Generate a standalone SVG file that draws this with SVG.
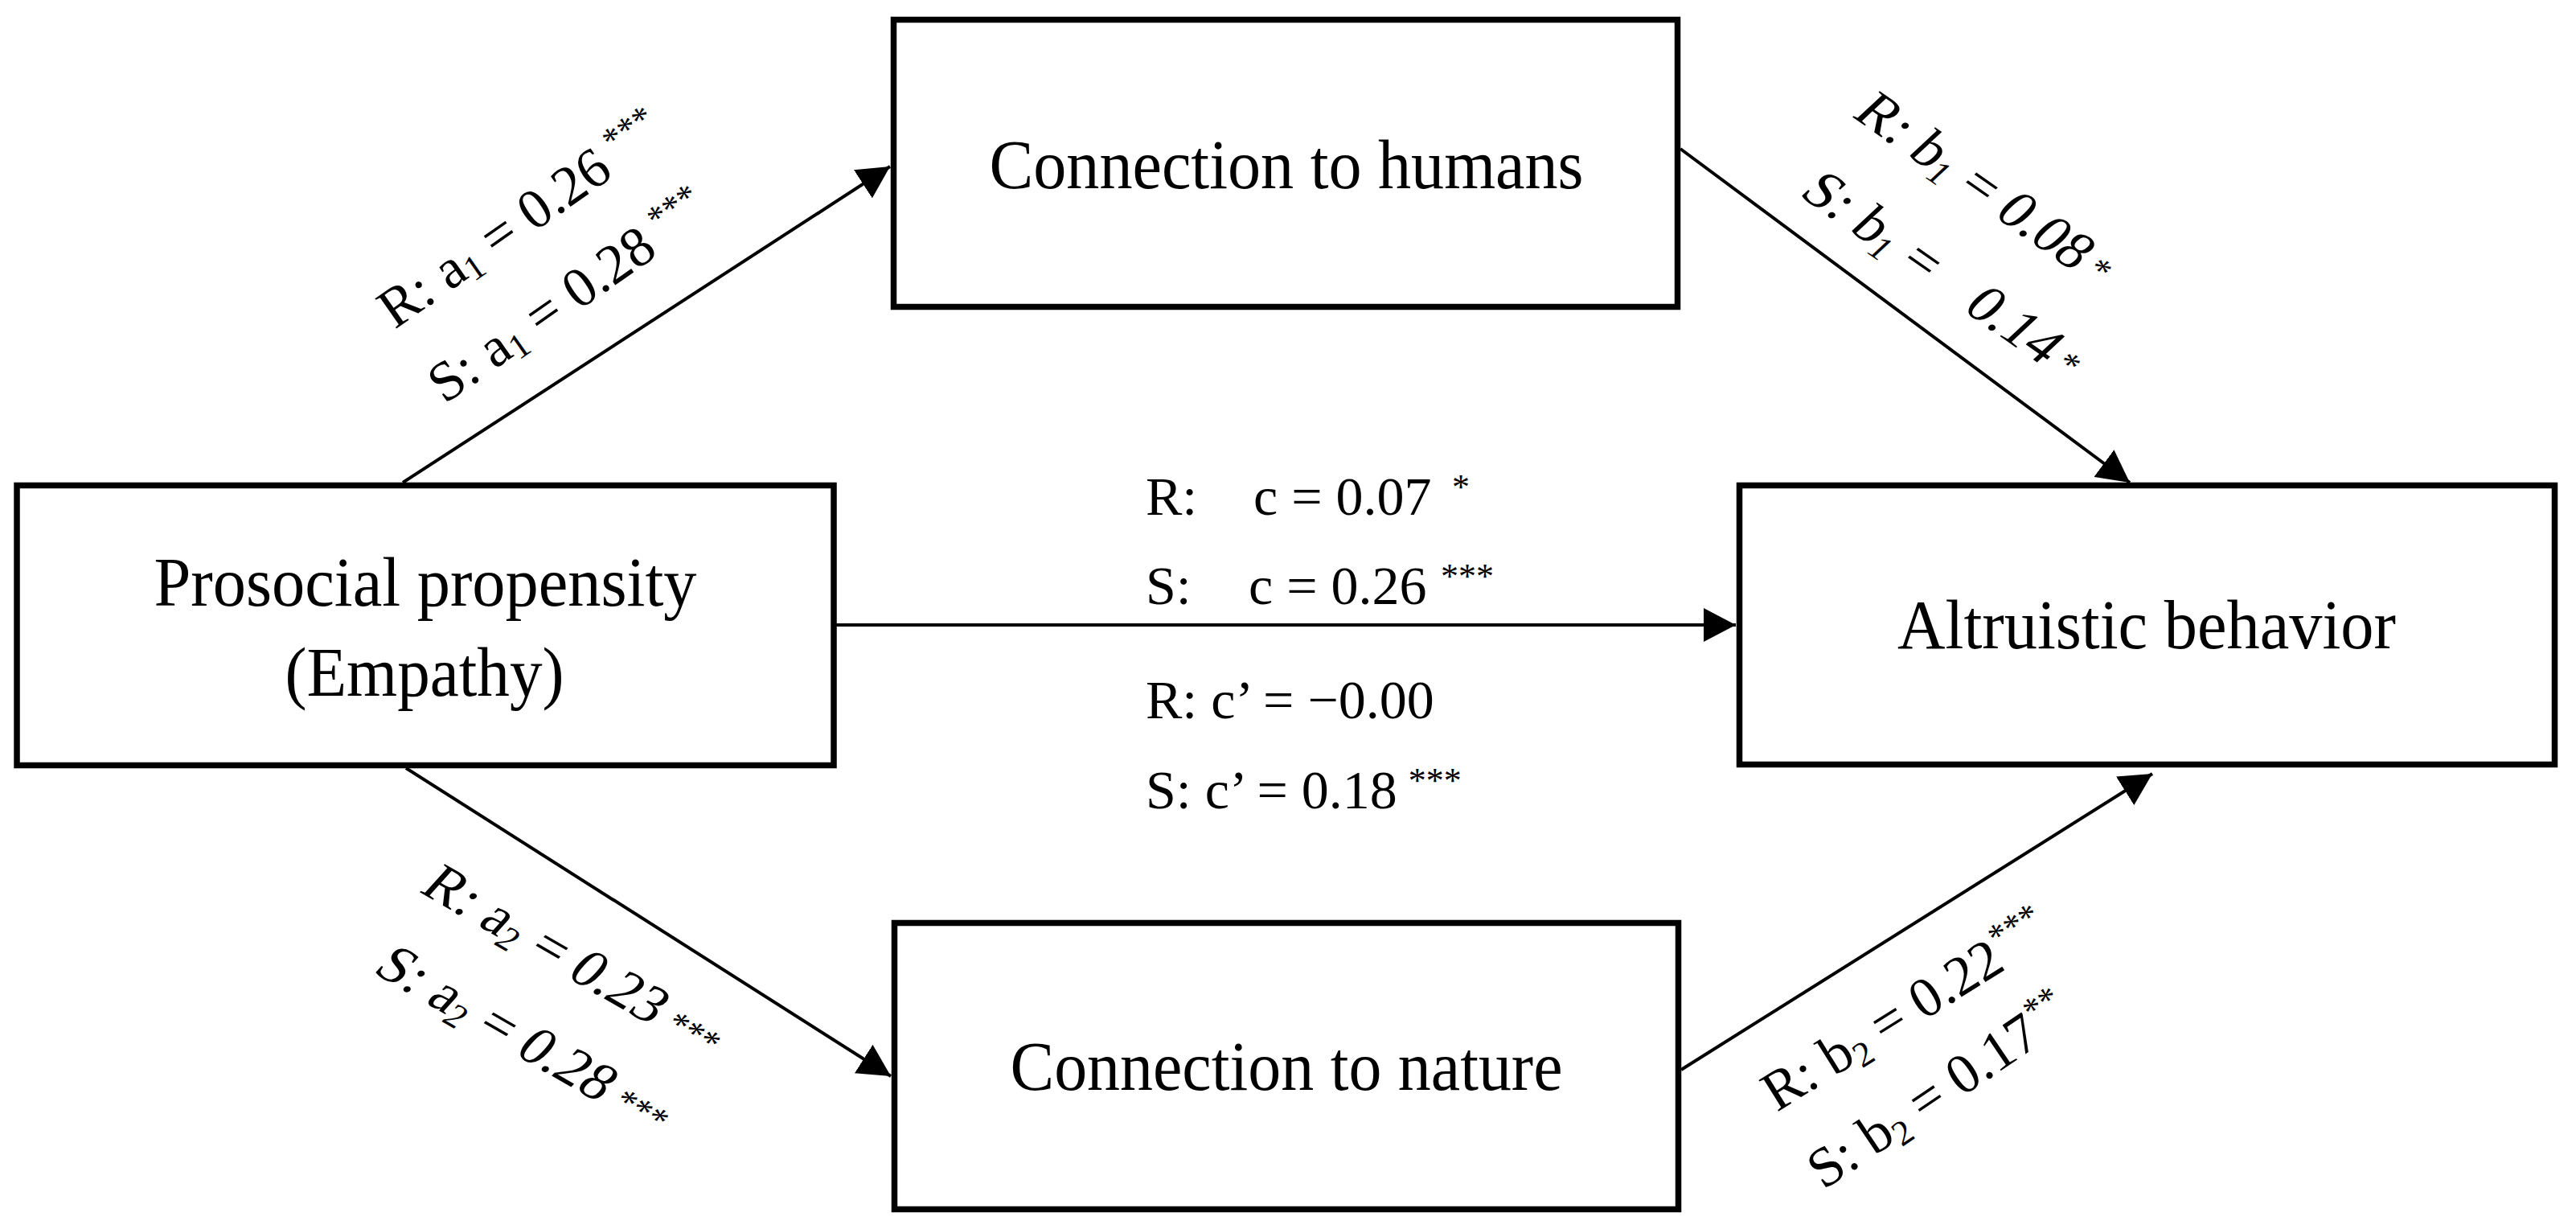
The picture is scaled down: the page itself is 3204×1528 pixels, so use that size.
<svg xmlns="http://www.w3.org/2000/svg" width="3204" height="1528" viewBox="0 0 3204 1528">
<style>
text{font-family:"Liberation Serif","Times New Roman",serif;fill:#000}
.node{font-size:86px;text-anchor:middle}
.lab{font-size:70px}
.mid{font-size:68px}
.sub{font-size:44px}
.sup{font-size:44px}
.box{fill:#fff;stroke:#000;stroke-width:7.5}
.edge{fill:none;stroke:#000;stroke-width:4}
</style>
<defs>
<marker id="arr" markerUnits="userSpaceOnUse" markerWidth="40" markerHeight="42" viewBox="0 0 40 42" refX="40" refY="21" orient="auto"><path d="M0,0 L40,21 L0,42 z" fill="#000"/></marker>
</defs>
<rect width="3204" height="1528" fill="#fff"/>
<g id="connectors">
<path class="edge" d="M501,600 L1107,207" marker-end="url(#arr)"/>
<path class="edge" d="M1040,777 L2159,777" stroke-width="5" marker-end="url(#arr)"/>
<path class="edge" d="M505,955 L1108,1338" marker-end="url(#arr)"/>
<path class="edge" d="M2090,185 L2649,600" marker-end="url(#arr)"/>
<path class="edge" d="M2091,1330 L2677,962" marker-end="url(#arr)"/>
</g>
<g id="node-prosocial">
<rect class="box" x="21" y="603.5" width="1016" height="348"/>
<text class="node" x="529" y="753" textLength="675" lengthAdjust="spacingAndGlyphs">Prosocial propensity</text>
<text class="node" x="528" y="865" textLength="347" lengthAdjust="spacingAndGlyphs">(Empathy)</text>
</g>
<g id="node-humans">
<rect class="box" x="1111.5" y="24.5" width="975" height="357"/>
<text class="node" x="1600" y="234" textLength="739" lengthAdjust="spacingAndGlyphs">Connection to humans</text>
</g>
<g id="node-altruistic">
<rect class="box" x="2163.5" y="603.5" width="1014" height="347"/>
<text class="node" x="2670" y="806" textLength="620" lengthAdjust="spacingAndGlyphs">Altruistic behavior</text>
</g>
<g id="node-nature">
<rect class="box" x="1112.5" y="1147.5" width="975" height="356"/>
<text class="node" x="1600" y="1355" textLength="687" lengthAdjust="spacingAndGlyphs">Connection to nature</text>
</g>
<g id="labels">
<text class="lab" transform="translate(491,410) rotate(-35)"><tspan>R: a</tspan><tspan class="sub" dy="8">1</tspan><tspan dy="-8"> = 0.26</tspan><tspan class="sup" dx="14" dy="-24">***</tspan></text>
<text class="lab" transform="translate(553,503) rotate(-35)"><tspan>S: a</tspan><tspan class="sub" dy="8">1</tspan><tspan dy="-8"> = 0.28</tspan><tspan class="sup" dx="14" dy="-24">***</tspan></text>

<text class="lab" transform="translate(2302,144) rotate(35) skewX(-12)"><tspan>R: b</tspan><tspan class="sub" dy="10">1</tspan><tspan dy="-10"> = 0.08</tspan><tspan class="sup" dx="10" dy="-6">*</tspan></text>
<text class="lab" transform="translate(2236,242) rotate(35) skewX(-12)"><tspan>S: b</tspan><tspan class="sub" dy="10">1</tspan><tspan dy="-10"> =</tspan><tspan dx="41"> 0.14</tspan><tspan class="sup" dx="10" dy="-6">*</tspan></text>

<text class="lab" transform="translate(520,1108) rotate(30) skewX(-12)"><tspan>R: a</tspan><tspan class="sub" dy="10">2</tspan><tspan dy="-10"> = 0.23</tspan><tspan class="sup" dx="14" dy="-4">***</tspan></text>
<text class="lab" transform="translate(462,1208) rotate(30) skewX(-12)"><tspan>S: a</tspan><tspan class="sub" dy="10">2</tspan><tspan dy="-10"> = 0.28</tspan><tspan class="sup" dx="14" dy="-4">***</tspan></text>

<text class="lab" transform="translate(2210,1383) rotate(-32)"><tspan>R: b</tspan><tspan class="sub" dy="10">2</tspan><tspan dy="-10"> = 0.22</tspan><tspan class="sup" dx="2" dy="-26">***</tspan></text>
<text class="lab" transform="translate(2268,1480) rotate(-34)"><tspan>S: b</tspan><tspan class="sub" dy="10">2</tspan><tspan dy="-10"> = 0.17</tspan><tspan class="sup" dx="2" dy="-26">**</tspan></text>

<text class="mid" x="1425" y="640">R:<tspan x="1559">c = 0.07</tspan><tspan class="sup" x="1806" dy="-20">*</tspan></text>
<text class="mid" x="1425" y="751">S:<tspan x="1553">c = 0.26</tspan><tspan class="sup" x="1792" dy="-20">***</tspan></text>
<text class="mid" x="1425" y="893">R: c’ = −0.00</text>
<text class="mid" x="1425" y="1005">S: c’ = 0.18<tspan class="sup" dx="14" dy="-20">***</tspan></text>
</g>
</svg>
